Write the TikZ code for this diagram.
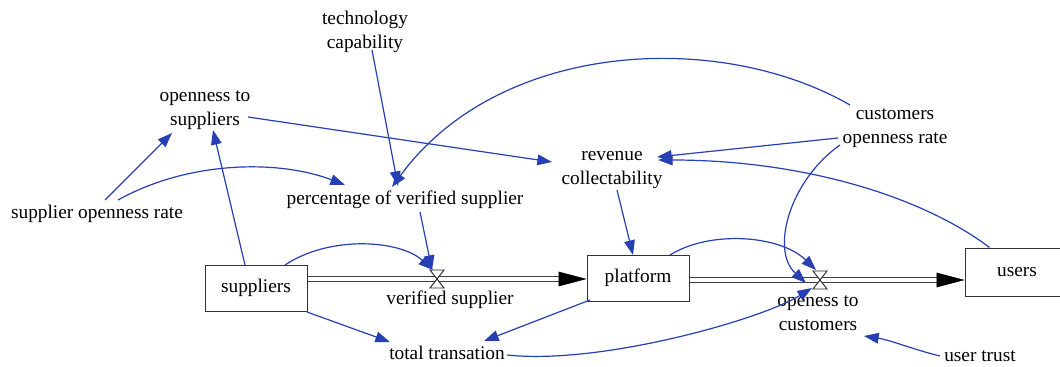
\documentclass[tikz,border=0pt]{standalone}
\usepackage{fontspec}
\setmainfont{Liberation Serif}
\usetikzlibrary{arrows.meta,calc}
\definecolor{linkblue}{RGB}{38,64,180}
\begin{document}
\begin{tikzpicture}[x=0.75pt,y=-0.75pt,
  every node/.style={font=\fontsize{14.5}{17.5}\selectfont},
  var/.style={align=center,inner sep=1pt},
  stock/.style={draw=black!80,line width=0.75pt,minimum width=76.5pt,minimum height=34.5pt,inner sep=0pt},
  link/.style={draw=linkblue,line width=0.9pt,-{Triangle[length=11pt,width=8pt]}},
  pipe/.style={draw=black!75,line width=0.7pt,double=white,double distance=2.6pt},
  flowhead/.style={line width=0.4pt,-{Triangle[length=21pt,width=11pt]}},
  valve/.style={draw=black!85,fill=white,line width=0.7pt}
]
\clip (0,0) rectangle (1060,367);
\fill[white] (0,0) rectangle (1060,367);

% auxiliary variables
\node[var] (tech) at (365,32) {technology\\capability};
\node[var] (ots) at (205,110) {openness to\\suppliers};
\node[var] (sor) at (97,214) {supplier openness rate};
\node[var] (pvs) at (405,200) {percentage of verified supplier};
\node[var] (rev) at (612,170) {revenue\\collectability};
\node[var] (cor) at (895,128) {customers\\openness rate};
\node[var] (tt) at (447,353) {total transation};
\node[var] (ut) at (980,356) {user trust};

% stocks
\node[stock] (sup) at (256,288) {suppliers};
\node[stock] (plat) at (638,278) {platform};
\node[stock,minimum width=78pt,minimum height=36pt] (users) at (1017,272) {users};

% flow valves
\coordinate (v1) at (437,279);
\coordinate (v2) at (820,280);

% flow pipes
\draw[pipe] (sup.east |- v1) -- (v1) -- ($(plat.west |- v1)+(-22,0)$);
\draw[flowhead] ($(plat.west |- v1)+(-24,0)$) -- (plat.west |- v1);
\draw[pipe] (plat.east |- v2) -- (v2) -- ($(users.west |- v2)+(-22,0)$);
\draw[flowhead] ($(users.west |- v2)+(-24,0)$) -- (users.west |- v2);

\draw[valve] ($(v1)+(-7,-9)$) -- ++(14,0) -- ++(-14,18) -- ++(14,0) -- cycle;
\draw[valve] ($(v2)+(-7,-9)$) -- ++(14,0) -- ++(-14,18) -- ++(14,0) -- cycle;

\node[var] (vsl) at (450,300) {verified supplier};
\node[var] (otc) at (818,313) {openess to\\customers};

% causal links
\draw[link] ($(tech)+(7,18)$) -- ($(pvs)+(-7,-14)$);
\draw[link] ($(sor)+(8,-14)$) -- ($(ots)+(-33,23)$);
\draw[link] ($(sor)+(21,-14)$) .. controls (190,160) and (280,160) .. ($(pvs)+(-60,-15)$);
\draw[link] ($(sup)+(-11,-23)$) -- ($(ots)+(8,20)$);
\draw[link] ($(ots)+(43,7)$) -- ($(rev)+(-60,-8)$);
\draw[link] ($(cor)+(-45,-23)$) .. controls (720,30) and (500,40) .. ($(pvs)+(-13,-13)$);
\draw[link] ($(cor)+(-57,10)$) -- ($(rev)+(45,-13)$);
\draw[link] ($(users.north west)+(25,0)$) .. controls (920,195) and (800,160) .. ($(rev)+(46,-10)$);
\draw[link] ($(cor)+(-55,17)$) .. controls (790,180) and (770,250) .. ($(v2)+(-14,3)$);
\draw[link] ($(pvs)+(15,12)$) -- ($(v1)+(-5,-9)$);
\draw[link] ($(sup)+(29,-23)$) .. controls (330,235) and (400,240) .. ($(v1)+(-4,-9)$);
\draw[link] ($(rev)+(5,20)$) -- ($(plat)+(-5,-23)$);
\draw[link] ($(plat)+(32,-23)$) .. controls (710,230) and (780,235) .. ($(v2)+(-4,-10)$);
\draw[link] ($(sup)+(51,24)$) -- ($(tt)+(-57,-11)$);
\draw[link] ($(plat)+(-48,22)$) -- ($(tt)+(37,-12)$);
\draw[link] ($(tt)+(60,2)$) .. controls (600,365) and (760,320) .. ($(v2)+(-8,8)$);
\draw[link] ($(ut)+(-40,0)$) .. controls (915,350) and (890,340) .. ($(otc)+(46,23)$);
\end{tikzpicture}
\end{document}
